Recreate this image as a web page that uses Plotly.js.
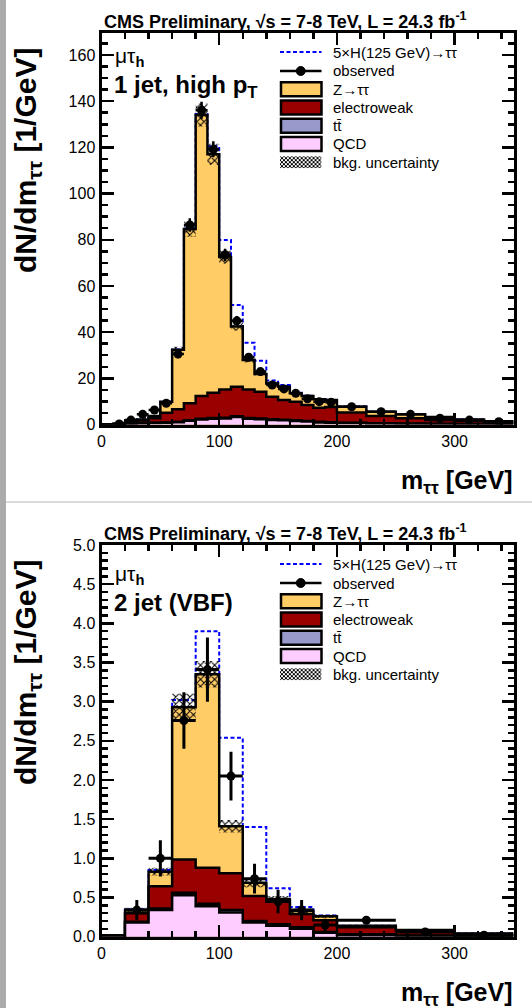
<!DOCTYPE html>
<html>
<head>
<meta charset="utf-8">
<script src="https://cdn.plot.ly/plotly-3.0.1.min.js"></script>
<style>html,body{margin:0;padding:0;background:#fff;}#plot{width:532px;height:1008px;}</style>
</head>
<body>
<div id="plot"></div>
<script>
// ---------------- DATA ----------------
// Panel 1: mu tau_h, 1 jet, high pT   (values in 1/GeV)
const edges1 = [0,10,20,30,40,50,60,70,80,90,100,110,120,130,140,150,160,170,180,190,200,225,250,275,300,325,350];
const ztt1 = [0,0.1,0.2,0.5,1.0,4.8,25.8,75.5,121.7,103.2,57.3,26.0,12.7,7.7,5.8,5.8,3.6,3.9,3.7,3.0,2.5,1.8,1.7,1.2,0.7,0.5];
const ewk1 = [0,0.1,0.65,1.15,1.9,4.2,5.45,7.4,9.85,11.0,12.25,12.85,12.35,11.55,9.7,8.5,8.1,6.85,6.05,6.6,4.4,3.15,2.3,1.7,1.3,0.75];
const ttb1 = [0,0,0.05,0.05,0.1,0.1,0.15,0.2,0.25,0.3,0.35,0.35,0.35,0.35,0.3,0.3,0.3,0.25,0.25,0.2,0.2,0.15,0.1,0.1,0.05,0.05];
const qcd1 = [0,0.1,0.3,0.5,0.7,0.8,1.0,1.6,2.2,2.5,2.6,3.2,2.5,2.3,2.0,1.8,1.5,1.3,0.9,0.8,0.6,0.4,0.3,0.2,0.15,0.1];
const sig1 = [0,0,0,0,0,0,0.1,0.3,0.5,3.5,7.4,9.3,7.5,5.7,1.2,0.7,0.3,0.2,0.1,0.1,0.05,0,0,0,0,0];
const unc1 = [0,0.02,0.05,0.1,0.15,0.4,1.3,3.4,5.0,4.6,2.9,1.7,1.1,0.9,0.7,0.7,0.55,0.5,0.45,0.45,0.3,0.25,0.2,0.15,0.1,0.1];
const obs1 = [null,0.2,1.9,4.4,6.3,9.2,30.5,86.4,136.1,119.2,73.4,44.9,29.1,22.9,17.1,15.4,13.5,11.1,9.9,9.6,7.7,5.5,4.4,2.7,1.9,1.2];
const obsErr1 = [0,0.15,0.4,0.7,0.8,1.0,1.8,2.9,3.7,3.5,2.7,2.1,1.7,1.5,1.3,1.2,1.2,1.1,1.0,1.0,0.55,0.5,0.45,0.35,0.3,0.25];

// Panel 2: mu tau_h, 2 jet (VBF)
const edges2 = [0,20,40,60,80,100,120,140,160,180,200,250,300,350];
const ztt2 = [0,0.04,0.185,1.945,2.47,0.60,0.17,0.03,0.04,0.05,0.02,0.005,0.005];
const ewk2 = [0.01,0.11,0.285,0.425,0.46,0.47,0.32,0.29,0.17,0.15,0.09,0.065,0.025];
const ttb2 = [0,0.01,0.02,0.03,0.03,0.03,0.02,0.02,0.02,0.01,0.01,0.005,0.005];
const qcd2 = [0.01,0.18,0.34,0.53,0.39,0.31,0.18,0.14,0.10,0.05,0.02,0.01,0.005];
const sig2 = [0,0.01,0.02,0.09,0.55,1.13,0.71,0.14,0.05,0.01,0,0,0];
const unc2 = [0.005,0.03,0.05,0.17,0.17,0.08,0.06,0.04,0.03,0.02,0.01,0.008,0.004];
const obs2 = [null,0.34,1.0,2.76,3.41,2.05,0.74,0.45,0.34,0.15,0.21,0.06,0.02];
const obsErr2 = [0,0.13,0.23,0.36,0.41,0.31,0.19,0.15,0.13,0.08,0.05,0.03,0.02];

// Text
const titleText = "CMS Preliminary, √s = 7-8 TeV, L = 24.3 fb<sup>-1</sup>";
const channelText = "μτ<sub><b>h</b></sub>";
const categories = ["<b>1 jet, high p<sub>T</sub></b>", "<b>2 jet (VBF)</b>"];
const legendLabels = ["5×H(125 GeV)→ττ","observed","Z→ττ","electroweak","tt̄","QCD","bkg. uncertainty"];
const xTitle = "<b>m<sub>ττ</sub> [GeV]</b>";
const yTitle = "<b>dN/dm<sub>ττ</sub> [1/GeV]</b>";

// ---------------- DRAWING ----------------
const W = 532, H = 1008;
const FONT = "Liberation Sans, Arial, Helvetica, sans-serif";
const COL = {ztt:"#ffcc66", ewk:"#990000", ttb:"#9999cc", qcd:"#ffccff", sig:"#0000ff"};
const px = v => v / W;
const py = v => 1 - v / H;

function add(...arrs){ return arrs[0].map((_, i) => arrs.reduce((s, a) => s + a[i], 0)); }
function step(edges, vals){
  return {x: edges.slice(0, -1).concat([edges[edges.length-1]]), y: vals.concat([vals[vals.length-1]])};
}

const traces = [];
function panel(p, xa, ya){
  const qcdC = p.qcd.slice();
  const ttC = add(p.qcd, p.ttb);
  const ewC = add(p.qcd, p.ttb, p.ewk);
  const tot = add(p.qcd, p.ttb, p.ewk, p.ztt);
  const sigT = add(tot, p.sig);
  const base = {type:"scatter", mode:"lines", xaxis:xa, yaxis:ya, hoverinfo:"skip", showlegend:false};
  let s = step(p.edges, sigT);
  traces.push(Object.assign({}, base, {x:s.x, y:s.y, line:{shape:"hv", color:COL.sig, width:2, dash:"4px,2.5px"}}));
  [[tot, COL.ztt],[ewC, COL.ewk],[ttC, COL.ttb],[qcdC, COL.qcd]].forEach(([v, c]) => {
    const st = step(p.edges, v);
    traces.push(Object.assign({}, base, {x:st.x, y:st.y, fill:"tozeroy", fillcolor:c, line:{shape:"hv", color:"#000", width:2.5}}));
  });
  const lo = step(p.edges, tot.map((v, i) => v - p.unc[i]));
  const hi = step(p.edges, tot.map((v, i) => v + p.unc[i]));
  traces.push(Object.assign({}, base, {x:lo.x, y:lo.y, line:{shape:"hv", width:0, color:"rgba(0,0,0,0)"}}));
  traces.push(Object.assign({}, base, {x:hi.x, y:hi.y, line:{shape:"hv", width:0, color:"rgba(0,0,0,0)"},
    fill:"tonexty", fillcolor:"rgba(0,0,0,0)",
    fillpattern:{shape:"x", fgcolor:"#000", bgcolor:"rgba(0,0,0,0)", size:5, solidity:0.38}}));
  const centers = p.edges.slice(0, -1).map((e, i) => (e + p.edges[i+1]) / 2);
  const halfw = p.edges.slice(0, -1).map((e, i) => (p.edges[i+1] - e) / 2);
  traces.push({type:"scatter", mode:"markers", xaxis:xa, yaxis:ya, hoverinfo:"skip", showlegend:false,
    x:centers, y:p.obs,
    marker:{color:"#000", size:9},
    error_y:{type:"data", array:p.err, color:"#000", thickness:p.eth, width:0},
    error_x:{type:"data", array:halfw, color:"#000", thickness:p.eth, width:0}});
}

panel({edges:edges1, ztt:ztt1, ewk:ewk1, ttb:ttb1, qcd:qcd1, sig:sig1, unc:unc1, obs:obs1, err:obsErr1, eth:2.5}, "x", "y");
panel({edges:edges2, ztt:ztt2, ewk:ewk2, ttb:ttb2, qcd:qcd2, sig:sig2, unc:unc2, obs:obs2, err:obsErr2, eth:3}, "x2", "y2");

const XL = 101.5, XR = 513.5;
function xAxis(anchor){
  return {domain:[px(XL), px(XR)], anchor:anchor, range:[0,350], dtick:100, tick0:0,
    ticks:"inside", ticklen:12, tickwidth:2.5, tickcolor:"#000",
    minor:{ticks:"inside", ticklen:6, tickwidth:2.5, dtick:20, tickcolor:"#000"},
    showline:true, linewidth:3, linecolor:"#000", mirror:"allticks",
    showgrid:false, zeroline:false, fixedrange:true,
    tickfont:{family:FONT, size:16, color:"#000"}};
}
function yAxis(anchor, top, bottom, range, dtick, minorDtick, fmt){
  return {domain:[py(bottom), py(top)], anchor:anchor, range:range, dtick:dtick, tick0:0, tickformat:fmt,
    ticks:"inside", ticklen:12, tickwidth:2.5, tickcolor:"#000",
    minor:{ticks:"inside", ticklen:6, tickwidth:2.5, dtick:minorDtick, tickcolor:"#000"},
    showline:true, linewidth:3, linecolor:"#000", mirror:"allticks",
    showgrid:false, zeroline:false, fixedrange:true,
    tickfont:{family:FONT, size:16, color:"#000"}};
}

const shapes = [];
const annotations = [];
const images = [];
const hatchSvg = "<svg xmlns='http://www.w3.org/2000/svg' width='42' height='12'><defs><pattern id='p' width='4' height='4' patternUnits='userSpaceOnUse'><path d='M0,0L4,4M4,0L0,4' stroke='black' stroke-width='1'/></pattern></defs><rect width='42' height='12' fill='url(#p)'/></svg>";
const hatchSrc = "data:image/svg+xml;charset=utf-8," + encodeURIComponent(hatchSvg);

function decorate(dy, catIdx, chanY, catY){
  const ann = (x, y, text, size, xanchor, extra) => annotations.push(Object.assign({
    xref:"paper", yref:"paper", x:px(x), y:py(y + dy), text:text, showarrow:false,
    xanchor:xanchor, yanchor:"middle", font:{family:FONT, size:size, color:"#000"}}, extra || {}));
  ann(102, 20, "<b>" + titleText + "</b>", 18, "left");
  ann(113, chanY, channelText, 21, "left");
  ann(112, catY, categories[catIdx], 24, "left");
  ann(513.5, 482, xTitle, 25, "right");
  ann(27, 161, yTitle, 30, "center", {textangle:-90});
  // legend
  const rows = [52, 71, 89.3, 107.5, 125.7, 144, 162.2];
  const LX0 = 280, LX1 = 321.5, TX = 331;
  rows.forEach((r, i) => ann(TX, r, legendLabels[i], 15, "left"));
  shapes.push({type:"line", xref:"paper", yref:"paper", x0:px(LX0), x1:px(LX1), y0:py(rows[0]+dy), y1:py(rows[0]+dy),
    line:{color:COL.sig, width:2, dash:"4px,2.5px"}, layer:"above"});
  shapes.push({type:"line", xref:"paper", yref:"paper", x0:px(LX0), x1:px(LX1), y0:py(rows[1]+dy), y1:py(rows[1]+dy),
    line:{color:"#000", width:2.5}, layer:"above"});
  const cx = (LX0 + LX1) / 2, rr = 4.5;
  shapes.push({type:"circle", xref:"paper", yref:"paper", x0:px(cx-rr), x1:px(cx+rr), y0:py(rows[1]+dy-rr), y1:py(rows[1]+dy+rr),
    fillcolor:"#000", line:{color:"#000", width:1}, layer:"above"});
  [COL.ztt, COL.ewk, COL.ttb, COL.qcd].forEach((c, k) => {
    const r = rows[2+k] + dy;
    shapes.push({type:"rect", xref:"paper", yref:"paper", x0:px(LX0+1), x1:px(LX1), y0:py(r+7), y1:py(r-7),
      fillcolor:c, line:{color:"#000", width:2.5}, layer:"above"});
  });
  images.push({source:hatchSrc, xref:"paper", yref:"paper", x:px(LX0), y:py(rows[6]+dy-6),
    sizex:px(LX1-LX0), sizey:12/H, sizing:"stretch", xanchor:"left", yanchor:"top", layer:"above"});
}
decorate(0, 0, 57, 86);
decorate(512, 1, 63, 90);

// page decorations: grey left strip and separator between the two plots
shapes.push({type:"rect", xref:"paper", yref:"paper", x0:0, x1:px(6), y0:0, y1:1, fillcolor:"#ababab", line:{width:0}, layer:"above"});
shapes.push({type:"line", xref:"paper", yref:"paper", x0:px(6), x1:1, y0:py(502), y1:py(502), line:{color:"#b4b4b4", width:1}, layer:"above"});

const layout = {
  width:W, height:H, margin:{l:0, r:0, t:0, b:0},
  paper_bgcolor:"#fff", plot_bgcolor:"#fff", showlegend:false,
  xaxis: xAxis("y"),
  yaxis: yAxis("x", 33.3, 424.5, [0,169.4], 20, 5, "d"),
  xaxis2: xAxis("y2"),
  yaxis2: yAxis("x2", 545, 936.7, [0,5], 0.5, 0.1, ".1f"),
  shapes:shapes, annotations:annotations, images:images
};
Plotly.newPlot("plot", traces, layout, {staticPlot:true, displayModeBar:false});
</script>
</body>
</html>
